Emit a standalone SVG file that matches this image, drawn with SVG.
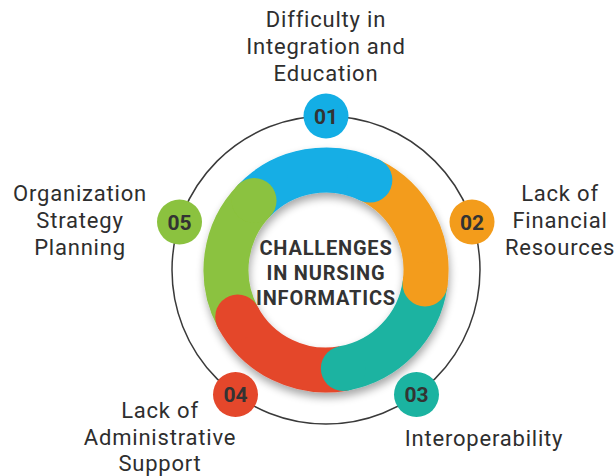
<svg xmlns="http://www.w3.org/2000/svg" width="616" height="476" viewBox="0 0 616 476">
  <defs>
    <filter id="shadow" x="-30%" y="-30%" width="160%" height="160%">
      <feGaussianBlur in="SourceAlpha" stdDeviation="4"/>
      <feOffset dx="1" dy="5" result="b"/>
      <feComponentTransfer><feFuncA type="linear" slope="0.35"/></feComponentTransfer>
      <feMerge><feMergeNode/><feMergeNode in="SourceGraphic"/></feMerge>
    </filter>
  </defs>
  <style>
    .lbl { font-family: Roboto, "Liberation Sans", sans-serif; font-size: 22px; fill: #2e2e2e; text-anchor: middle; letter-spacing: 0.8px; }
    .num { font-family: Roboto, "Liberation Sans", sans-serif; font-size: 21px; font-weight: bold; fill: #333333; text-anchor: middle; }
    .ctr { font-family: Roboto, "Liberation Sans", sans-serif; font-size: 20px; font-weight: bold; fill: #333333; text-anchor: middle; letter-spacing: 0.8px; }
    .seg { fill: none; stroke-width: 45; stroke-linecap: butt; }
    .ring { fill: none; stroke: #3a3a3a; stroke-width: 1.5; }
  </style>
  <rect width="616" height="476" fill="#ffffff"/>

  <g id="connectors">
    <circle class="ring" cx="326" cy="270" r="154"/>
  </g>

  <g id="center-ring" filter="url(#shadow)">
    <path class="seg" stroke="#13aee5" d="M254.07,200.53 A100,100 0 0 1 369.84,180.12"/>
    <path class="seg" stroke="#f39c1b" d="M369.84,180.12 A100,100 0 0 1 425.03,283.92"/>
    <path class="seg" stroke="#1bb3a1" d="M425.03,283.92 A100,100 0 0 1 343.36,368.48"/>
    <path class="seg" stroke="#e4472b" d="M343.36,368.48 A100,100 0 0 1 237.71,316.95"/>
    <path class="seg" stroke="#8bc23f" d="M237.71,316.95 A100,100 0 0 1 254.07,200.53"/>
    <circle cx="369.84" cy="180.12" r="22.5" fill="#13aee5"/>
    <circle cx="425.03" cy="283.92" r="22.5" fill="#f39c1b"/>
    <circle cx="343.36" cy="368.48" r="22.5" fill="#1bb3a1"/>
    <circle cx="237.71" cy="316.95" r="22.5" fill="#e4472b"/>
    <circle cx="254.07" cy="200.53" r="22.5" fill="#8bc23f"/>
  </g>

  <g id="center-title">
    <text class="ctr" x="326" y="255">CHALLENGES</text>
    <text class="ctr" x="326" y="280">IN NURSING</text>
    <text class="ctr" x="326" y="305">INFORMATICS</text>
  </g>

  <g id="node-01">
    <circle cx="326" cy="116" r="22.5" fill="#13aee5"/>
    <text class="num" x="326" y="123.5">01</text>
    <text class="lbl" x="326" y="27">Difficulty in</text>
    <text class="lbl" x="326" y="54">Integration and</text>
    <text class="lbl" x="326" y="81">Education</text>
  </g>

  <g id="node-02">
    <circle cx="472" cy="222" r="22.5" fill="#f39c1b"/>
    <text class="num" x="472" y="229.5">02</text>
    <text class="lbl" x="560" y="201">Lack of</text>
    <text class="lbl" x="560" y="228">Financial</text>
    <text class="lbl" x="560" y="255">Resources</text>
  </g>

  <g id="node-03">
    <circle cx="416.5" cy="394.5" r="22.5" fill="#1bb3a1"/>
    <text class="num" x="416.5" y="402">03</text>
    <text class="lbl" x="484" y="446">Interoperability</text>
  </g>

  <g id="node-04">
    <circle cx="235.5" cy="394.5" r="22.5" fill="#e4472b"/>
    <text class="num" x="235.5" y="402">04</text>
    <text class="lbl" x="160" y="418">Lack of</text>
    <text class="lbl" x="160" y="444.5">Administrative</text>
    <text class="lbl" x="160" y="470.5">Support</text>
  </g>

  <g id="node-05">
    <circle cx="179.5" cy="222" r="22.5" fill="#8bc23f"/>
    <text class="num" x="179.5" y="229.5">05</text>
    <text class="lbl" x="80" y="201">Organization</text>
    <text class="lbl" x="80" y="228">Strategy</text>
    <text class="lbl" x="80" y="255">Planning</text>
  </g>
</svg>
